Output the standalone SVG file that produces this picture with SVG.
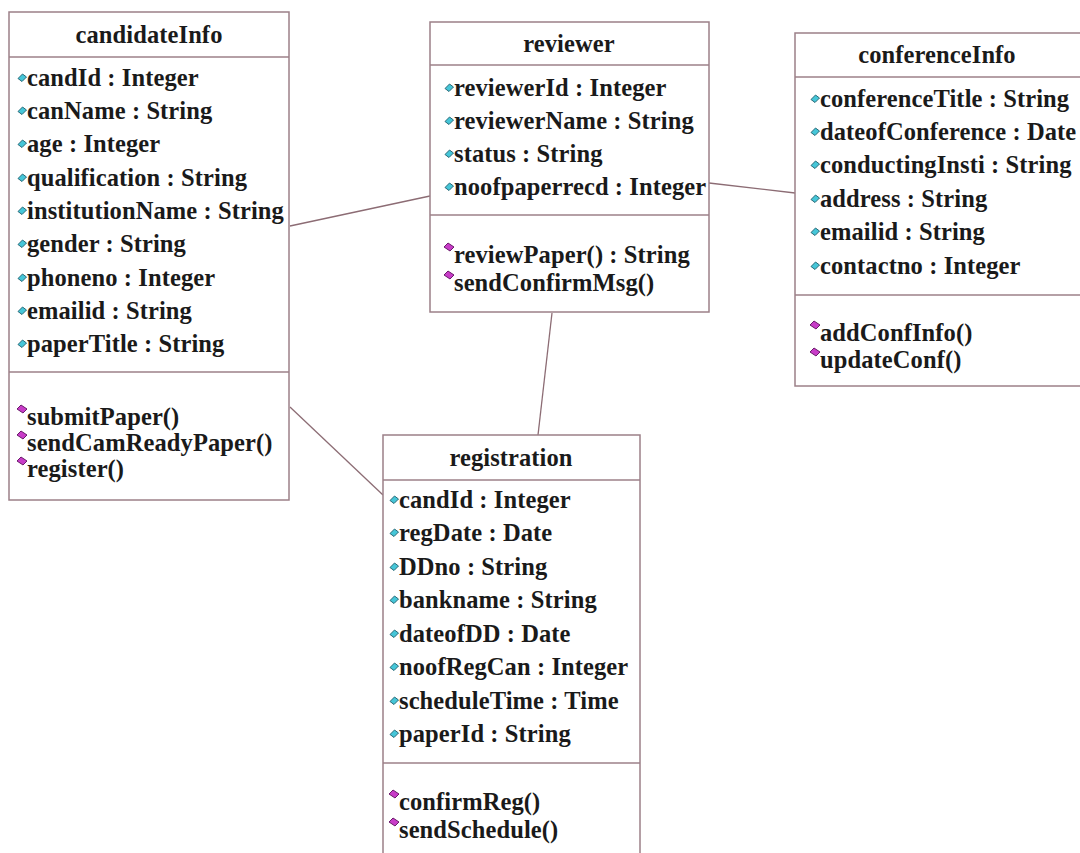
<svg xmlns="http://www.w3.org/2000/svg" width="1080" height="853" viewBox="0 0 1080 853">
<style>
.box{fill:#fff;stroke:#9c8088;stroke-width:1.5}
.sep{stroke:#9c8088;stroke-width:1.5}
.t{font-family:"Liberation Serif","Times New Roman",serif;font-weight:bold;font-size:24.5px;fill:#1a1a1a;letter-spacing:0.1px}
.h{text-anchor:middle}
.conn line{stroke:#8c6c74;stroke-width:1.3}
</style>
<defs>
<g id="ai"><polygon points="0,0.5 4.5,-4 8.5,-1 4,3.5" fill="#45c6d8" stroke="#2a6a78" stroke-width="1"/></g>
<g id="mi"><polygon points="0,-4 4,-8 10,-4 6,0" fill="#c83cc8" stroke="#6a1a6a" stroke-width="1"/></g>
</defs>
<rect width="1080" height="853" fill="#fff"/>
<g class="conn">
<line x1="290" y1="226" x2="430" y2="196"/>
<line x1="709" y1="183" x2="795" y2="193"/>
<line x1="552" y1="313" x2="538" y2="435"/>
<line x1="290" y1="407" x2="383" y2="495"/>
</g>
<g id="candidateInfo">
<rect class="box" x="9" y="12" width="280" height="488"/>
<line class="sep" x1="9" y1="57" x2="289" y2="57"/>
<line class="sep" x1="9" y1="372" x2="289" y2="372"/>
<text class="t h" x="149" y="43">candidateInfo</text>
<use href="#ai" x="18" y="78"/><text class="t" x="27" y="86">candId : Integer</text>
<use href="#ai" x="18" y="111"/><text class="t" x="27" y="119">canName : String</text>
<use href="#ai" x="18" y="144"/><text class="t" x="27" y="152">age : Integer</text>
<use href="#ai" x="18" y="178"/><text class="t" x="27" y="186">qualification : String</text>
<use href="#ai" x="18" y="211"/><text class="t" x="27" y="219">institutionName : String</text>
<use href="#ai" x="18" y="244"/><text class="t" x="27" y="252">gender : String</text>
<use href="#ai" x="18" y="278"/><text class="t" x="27" y="286">phoneno : Integer</text>
<use href="#ai" x="18" y="311"/><text class="t" x="27" y="319">emailid : String</text>
<use href="#ai" x="18" y="344"/><text class="t" x="27" y="352">paperTitle : String</text>
<use href="#mi" x="17" y="413"/><text class="t" x="27" y="425">submitPaper()</text>
<use href="#mi" x="17" y="439"/><text class="t" x="27" y="451">sendCamReadyPaper()</text>
<use href="#mi" x="17" y="465"/><text class="t" x="27" y="477">register()</text>
</g>
<g id="reviewer">
<rect class="box" x="430" y="22" width="279" height="290"/>
<line class="sep" x1="430" y1="65" x2="709" y2="65"/>
<line class="sep" x1="430" y1="215" x2="709" y2="215"/>
<text class="t h" x="569" y="52">reviewer</text>
<use href="#ai" x="445" y="88"/><text class="t" x="454" y="96">reviewerId : Integer</text>
<use href="#ai" x="445" y="121"/><text class="t" x="454" y="129">reviewerName : String</text>
<use href="#ai" x="445" y="154"/><text class="t" x="454" y="162">status : String</text>
<use href="#ai" x="445" y="187"/><text class="t" x="454" y="195">noofpaperrecd : Integer</text>
<use href="#mi" x="444" y="251"/><text class="t" x="454" y="263">reviewPaper() : String</text>
<use href="#mi" x="444" y="279"/><text class="t" x="454" y="291">sendConfirmMsg()</text>
</g>
<g id="conferenceInfo">
<rect class="box" x="795" y="33" width="300" height="353"/>
<line class="sep" x1="795" y1="77" x2="1095" y2="77"/>
<line class="sep" x1="795" y1="295" x2="1095" y2="295"/>
<text class="t h" x="937" y="63">conferenceInfo</text>
<use href="#ai" x="811" y="99"/><text class="t" x="820" y="107">conferenceTitle : String</text>
<use href="#ai" x="811" y="132"/><text class="t" x="820" y="140">dateofConference : Date</text>
<use href="#ai" x="811" y="165"/><text class="t" x="820" y="173">conductingInsti : String</text>
<use href="#ai" x="811" y="199"/><text class="t" x="820" y="207">address : String</text>
<use href="#ai" x="811" y="232"/><text class="t" x="820" y="240">emailid : String</text>
<use href="#ai" x="811" y="266"/><text class="t" x="820" y="274">contactno : Integer</text>
<use href="#mi" x="810" y="329"/><text class="t" x="820" y="341">addConfInfo()</text>
<use href="#mi" x="810" y="356"/><text class="t" x="820" y="368">updateConf()</text>
</g>
<g id="registration">
<rect class="box" x="383" y="435" width="257" height="440"/>
<line class="sep" x1="383" y1="480" x2="640" y2="480"/>
<line class="sep" x1="383" y1="763" x2="640" y2="763"/>
<text class="t h" x="511" y="466">registration</text>
<use href="#ai" x="390" y="500"/><text class="t" x="399" y="508">candId : Integer</text>
<use href="#ai" x="390" y="533"/><text class="t" x="399" y="541">regDate : Date</text>
<use href="#ai" x="390" y="567"/><text class="t" x="399" y="575">DDno : String</text>
<use href="#ai" x="390" y="600"/><text class="t" x="399" y="608">bankname : String</text>
<use href="#ai" x="390" y="634"/><text class="t" x="399" y="642">dateofDD : Date</text>
<use href="#ai" x="390" y="667"/><text class="t" x="399" y="675">noofRegCan : Integer</text>
<use href="#ai" x="390" y="701"/><text class="t" x="399" y="709">scheduleTime : Time</text>
<use href="#ai" x="390" y="734"/><text class="t" x="399" y="742">paperId : String</text>
<use href="#mi" x="389" y="798"/><text class="t" x="399" y="810">confirmReg()</text>
<use href="#mi" x="389" y="826"/><text class="t" x="399" y="838">sendSchedule()</text>
</g>
</svg>
